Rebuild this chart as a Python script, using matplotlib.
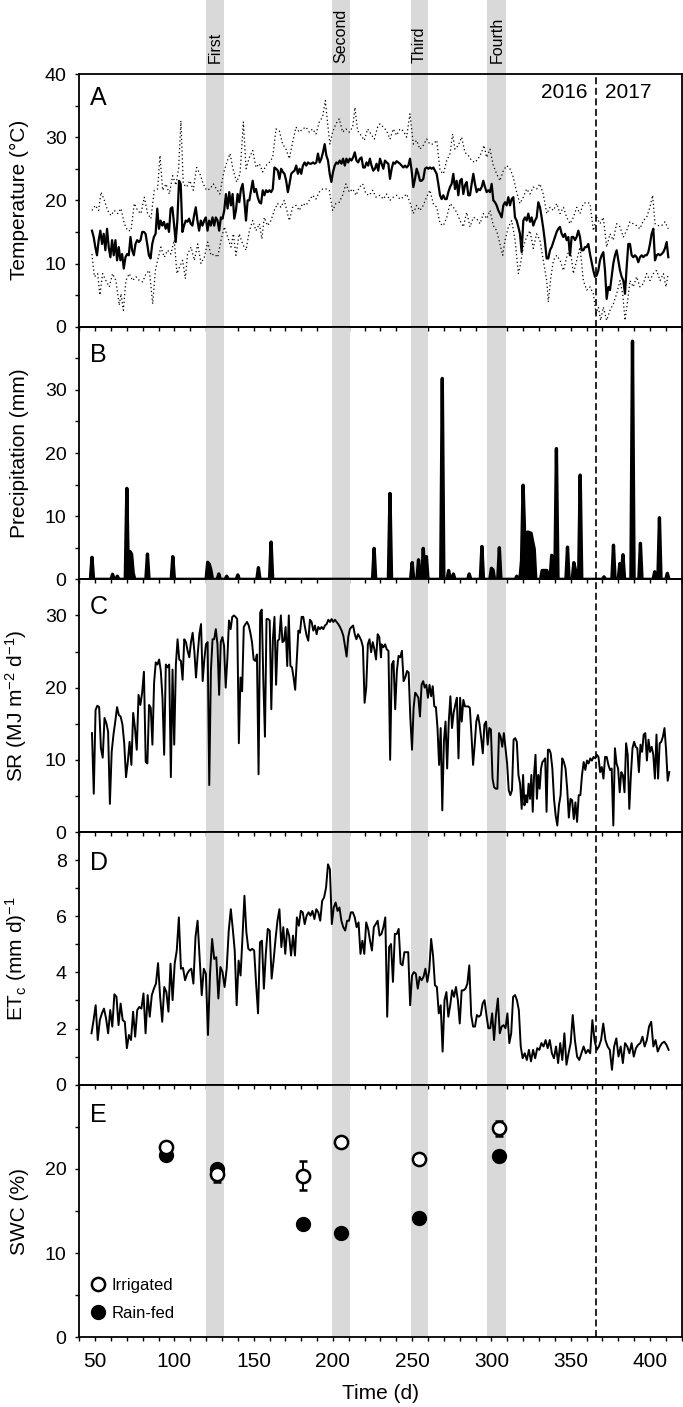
import numpy as np
import matplotlib
matplotlib.use('Agg')
import matplotlib.pyplot as plt
from matplotlib.ticker import MultipleLocator, FixedLocator
from matplotlib.lines import Line2D

plt.rcParams['font.family'] = ['Liberation Sans', 'DejaVu Sans']
plt.rcParams['mathtext.fontset'] = 'custom'
plt.rcParams['mathtext.rm'] = 'Liberation Sans'
plt.rcParams['mathtext.it'] = 'Liberation Sans:italic'
plt.rcParams['mathtext.default'] = 'regular'
plt.rcParams['lines.scale_dashes'] = False

# ---------------- data ----------------
# Mean daily temperature (°C), near-daily readings
tmean = [15.2, 14.2, 12.6, 11.3, 13.7, 15.2, 13.1, 14.7, 12.1, 15.5, 12.6, 11.0, 13.7, 11.3, 13.7, 10.5, 12.6, 10.5,
         11.5, 9.2, 11.0, 11.5, 11.3, 14.2, 12.1, 11.3, 13.1, 13.7, 13.4, 13.7, 15.0, 15.0, 14.7, 13.1, 11.3, 10.8,
         13.1, 14.2, 14.7, 18.7, 15.5, 16.8, 16.0, 16.6, 15.5, 16.3, 15.0, 18.7, 18.9, 16.3, 13.4, 16.8, 23.1, 22.6,
         15.0, 16.0, 16.8, 16.6, 17.1, 16.3, 16.0, 17.6, 18.9, 16.8, 15.2, 16.8, 16.0, 16.8, 17.3, 15.2, 16.8, 16.0,
         17.3, 16.0, 17.3, 16.8, 15.2, 17.3, 17.1, 18.4, 21.0, 18.7, 21.3, 19.2, 21.0, 17.1, 18.4, 21.0, 19.7, 21.8,
         22.6, 20.0, 16.8, 20.0, 20.0, 21.6, 23.1, 21.3, 21.8, 20.5, 19.7, 19.5, 21.6, 20.8, 21.6, 21.3, 21.6, 21.3,
         21.8, 25.2, 25.0, 24.7, 23.4, 25.0, 24.5, 24.2, 23.1, 21.3, 22.6, 24.2, 24.5, 24.7, 25.5, 24.2, 25.0, 24.2,
         25.5, 26.0, 25.5, 26.0, 25.8, 25.8, 26.0, 25.8, 26.0, 27.4, 26.0, 26.6, 27.6, 28.9, 27.1, 26.3, 24.2, 22.9,
         24.5, 25.5, 26.0, 25.8, 26.3, 25.8, 26.6, 25.5, 26.6, 26.0, 26.6, 26.3, 26.8, 27.6, 26.3, 26.0, 26.6, 26.8,
         25.2, 25.2, 26.0, 25.5, 26.6, 25.5, 24.7, 25.0, 25.8, 24.7,
         26.6, 25.8, 25.0, 26.3, 26.0, 25.8, 23.4, 25.0, 26.0, 25.8, 26.2, 26.0, 25.8, 25.5, 25.2, 25.5, 25.2, 25.5,
         26.6, 24.7, 22.1, 23.4, 25.0, 24.2, 23.1, 23.1, 23.4, 25.0, 25.2, 25.0, 25.2, 25.0, 25.2, 24.7, 24.2, 22.6,
         20.8, 20.2, 20.8, 20.2, 20.2, 21.3, 22.1, 22.6, 24.2, 21.8, 23.1, 20.8, 23.1, 23.4, 21.0, 22.4, 22.9, 20.8,
         20.8, 22.6, 24.2, 22.6, 21.3, 21.8, 21.6, 22.1, 23.1, 22.1, 21.3, 21.6, 21.3, 22.6, 20.0, 19.7, 19.2, 18.4,
         17.9, 17.3, 19.2, 19.7, 19.2, 20.5, 19.2, 20.2, 20.5, 17.3, 16.8, 15.8, 14.7, 11.8, 16.8, 17.3, 16.8, 17.9,
         16.6, 17.3, 16.0, 16.8, 17.3, 19.7, 18.9, 17.3, 15.5, 13.4, 10.8, 10.8, 12.1, 12.6, 13.4, 14.2, 15.0, 15.5,
         15.8, 14.7, 14.2, 14.7, 13.7, 14.2, 11.3, 14.2, 14.2, 13.7, 14.2, 15.2, 14.2, 12.1, 12.1, 12.6, 12.6, 13.1,
         11.5, 10.2, 8.9, 7.9, 8.1, 8.9, 10.5, 11.3, 11.8, 8.9, 4.4, 6.3, 5.8, 7.9, 10.0, 11.3, 12.1, 10.5,
         8.9, 7.9, 7.3, 5.2, 9.4, 13.1, 13.1, 11.3, 11.0, 11.3, 11.0, 10.2, 11.0, 11.3, 11.0, 11.3, 11.3, 11.8,
         13.1, 14.7, 15.5, 10.5, 11.3, 11.5, 11.3, 11.5, 11.8, 12.4, 13.4, 11.0]
# day of year at selected reading indices (readings between them are evenly spaced)
tmean_anchor_idx = [0, 171, 172, 345]
tmean_anchor_day = [48.0, 228.6, 229.7, 411.6]

tmax_days = [48.0, 50.1, 52.2, 53.7, 55.8, 57.9, 60.0, 62.1, 64.2, 66.3, 68.4, 70.5, 72.6, 74.7, 76.8, 78.9, 81.0,
             83.1, 85.2, 87.3, 89.4, 90.9, 92.6, 94.7, 96.8, 98.9, 101.0, 102.7, 104.1, 105.6, 107.7, 109.8, 111.9,
             114.0, 116.1, 118.2, 120.3, 122.4, 124.5, 126.6, 128.7, 130.9, 133.0, 135.1, 137.2, 139.3, 141.4,
             143.5, 145.2, 147.3, 149.4, 151.5, 153.6, 155.7, 157.8, 159.9, 162.0, 164.1, 166.2, 168.3, 170.4,
             172.5, 174.6, 176.7, 178.8, 180.9, 183.0, 185.1, 187.2, 189.3, 191.4, 193.5, 195.2, 196.7, 198.1,
             199.8, 201.9, 204.0, 206.1, 208.2, 210.3, 212.5, 213.9, 215.6, 217.7, 219.8, 221.9, 224.0, 226.1, 228.2,
             229.7, 231.8, 233.9, 236.0, 238.1, 240.2, 242.3, 244.4, 246.5, 248.6, 250.7, 252.8, 254.9, 257.0,
             259.1, 261.2, 263.3, 265.5, 267.6, 269.7, 271.8, 273.9, 275.5, 277.0, 279.1, 281.2, 283.3, 285.4,
             287.5, 289.6, 291.7, 293.8, 295.3, 297.0, 299.1, 301.2, 303.3, 305.4, 307.5, 309.6, 311.7, 313.8,
             315.9, 318.0, 320.1, 322.2, 324.3, 326.4, 328.5, 330.6, 332.7, 334.9, 337.0, 339.1, 341.2, 343.3,
             345.4, 347.5, 349.6, 351.7, 353.8, 355.9, 358.0, 360.1, 362.2, 364.3, 366.4, 368.5, 370.6, 372.7,
             374.8, 376.9, 379.0, 381.1, 383.2, 385.3, 387.4, 389.5, 391.6, 393.7, 395.8, 397.9, 400.0, 401.7,
             403.2, 405.3, 407.4, 409.5, 411.6]
tmax = [18.4, 19.2, 18.4, 21.3, 20.0, 18.4, 17.6, 18.4, 17.9, 18.7, 16.3, 15.2, 15.2, 19.5, 18.4, 17.9, 20.5, 17.9,
        17.1, 21.6, 21.8, 27.1, 21.6, 22.6, 21.0, 23.9, 22.4, 25.2, 32.6, 22.6, 22.1, 23.1, 21.6, 25.2, 24.2, 22.6,
        21.6, 21.8, 22.6, 21.8, 21.0, 24.2, 26.0, 27.4, 24.7, 22.9, 24.2, 32.4, 25.0, 26.8, 27.9, 25.2, 25.8, 24.5,
        25.5, 26.0, 26.8, 31.3, 31.0, 28.9, 28.1, 26.6, 29.2, 31.6, 30.8, 31.3, 31.6, 30.8, 31.3, 30.5, 32.4, 33.2,
        35.8, 32.1, 28.9, 30.8, 32.1, 32.9, 30.8, 31.3, 30.8, 31.6, 34.7, 31.0, 30.3, 29.5, 31.3, 30.5, 29.7, 31.6,
        32.1, 31.6, 31.0, 29.7, 31.3, 30.3, 31.3, 31.0, 30.0, 33.7, 28.9, 29.5, 28.1, 28.7, 29.7, 28.9, 28.9, 29.5,
        24.7, 24.2, 26.3, 27.4, 30.5, 28.1, 28.7, 30.0, 27.6, 27.1, 26.3, 26.0, 26.6, 27.6, 28.7, 26.8, 28.1, 25.5,
        24.2, 23.1, 24.7, 25.5, 25.0, 23.7, 21.3, 19.5, 20.5, 21.8, 21.0, 22.1, 21.8, 22.6, 21.0, 17.9, 18.9, 18.4,
        19.5, 17.9, 18.9, 17.3, 16.3, 17.3, 18.9, 17.9, 19.5, 19.7, 19.5, 15.2, 17.3, 16.3, 17.3, 12.6, 14.7, 13.7,
        16.3, 15.8, 14.2, 15.2, 16.6, 16.3, 16.0, 15.5, 16.8, 17.3, 18.9, 20.8, 16.3, 16.0, 16.0, 16.6, 15.5]

tmin_days = [48.0, 49.5, 51.6, 53.0, 54.7, 56.8, 58.9, 61.0, 63.1, 65.2, 66.3, 67.8, 69.4, 71.5, 73.6, 75.8, 77.9,
             80.0, 82.1, 84.2, 86.3, 88.0, 89.4, 91.5, 93.6, 95.7, 97.8, 99.9, 101.6, 103.1, 105.2, 106.9, 108.3,
             110.5, 112.6, 114.7, 116.8, 118.9, 121.0, 123.1, 125.2, 127.3, 129.4, 131.5, 133.6, 135.7, 137.2,
             138.8, 140.9, 143.0, 145.2, 147.3, 149.4, 151.5, 153.6, 155.2, 156.7, 158.8, 160.9, 163.0, 165.1,
             167.2, 169.3, 171.4, 172.5, 174.6, 176.7, 178.8, 180.9, 183.0, 185.1, 187.2, 189.3, 191.4, 193.5,
             195.6, 197.7, 199.8, 201.9, 204.0, 206.1, 208.2, 210.3, 212.5, 214.6, 216.7, 218.8, 220.9, 223.0,
             225.1, 227.2,
             229.7, 231.8, 233.9, 236.0, 238.1, 240.2, 242.3, 244.4, 246.5, 248.6, 250.7, 252.8, 254.9, 257.0,
             259.1, 261.2, 263.3, 265.5, 267.6, 269.7, 271.8, 273.9, 276.0, 278.1, 280.2, 282.3, 284.4, 286.5,
             288.6, 290.7, 292.8, 294.9, 297.0, 299.1, 301.2, 303.3, 305.4, 307.1, 308.6, 310.7, 312.8, 314.9,
             317.0, 318.4, 320.1, 322.2, 324.3, 326.4, 328.5, 330.6, 332.7, 334.9, 335.9, 337.4, 339.1, 341.2,
             343.3, 345.4, 347.5, 349.6, 351.7, 353.8, 355.9, 358.0, 360.1, 362.2, 364.3, 366.0, 367.5, 368.9,
             370.6, 372.7, 374.8, 376.9, 379.0, 381.1, 382.8, 384.3, 385.7, 387.4, 389.5, 391.6, 393.7, 395.8,
             397.9, 400.0, 402.1, 404.2, 406.4, 408.5, 410.1, 411.6]
tmin = [11.5, 7.9, 8.4, 5.0, 8.4, 7.3, 6.3, 8.4, 7.3, 3.4, 5.2, 2.6, 7.3, 8.4, 7.3, 7.9, 7.3, 7.1, 8.4, 8.9,
        3.6, 8.9, 10.5, 12.6, 11.0, 12.1, 11.5, 13.7, 8.4, 9.4, 10.5, 7.6, 11.5, 12.6, 10.5, 13.1, 10.0, 11.0,
        13.4, 11.3, 11.5, 11.0, 13.7, 15.8, 14.2, 12.6, 14.7, 11.3, 14.7, 13.1, 12.1, 15.2, 16.8, 15.2, 16.3,
        13.9, 17.3, 16.0, 16.8, 18.4, 19.5, 18.9, 20.0, 17.9, 16.8, 18.9, 19.2, 18.4, 19.5, 19.2, 20.0, 20.8,
        20.2, 21.3, 21.8, 21.8, 21.6, 18.4, 19.5, 19.7, 20.8, 22.6, 21.3, 21.8, 20.8, 22.1, 22.6, 21.0, 20.8,
        21.6, 20.5,
        20.8, 20.2, 21.0, 20.0, 20.5, 20.8, 20.2, 20.5, 21.0, 19.7, 17.9, 19.2, 18.4, 19.2, 20.5, 21.6, 19.5,
        18.9, 16.3, 16.0, 17.3, 19.5, 18.9, 18.1, 16.8, 15.8, 18.1, 15.8, 17.3, 17.1, 16.3, 17.9, 17.1, 18.4,
        16.0, 15.2, 13.1, 11.3, 13.7, 15.8, 16.8, 13.7, 8.4, 10.0, 12.6, 14.2, 15.2, 12.4, 14.7, 13.7, 10.5,
        7.3, 3.9, 7.6, 10.5, 11.3, 10.5, 8.9, 11.0, 12.6, 8.4, 10.5, 12.6, 7.3, 5.8, 6.3, 5.2, 2.1, 3.1, 1.0,
        3.1, 1.0, 2.6, 3.6, 5.2, 7.3, 5.2, 1.0, 3.6, 7.3, 6.3, 7.9, 6.3, 6.8, 8.4, 7.3, 8.4, 8.9, 7.3, 8.4,
        6.3, 8.4]

# Precipitation events (day, mm); all other days 0
rain_days = [48, 61, 64, 70, 72, 73, 74, 83, 99, 121, 122, 123, 128, 133, 140, 153, 161, 226, 236, 250, 254,
             257, 259, 269, 273, 276, 286, 294, 300, 301, 305, 316, 319, 320, 321, 322, 323, 324, 325, 326, 327,
             332, 333, 334, 335, 338, 341, 348, 352, 353, 356, 371, 377, 381, 382, 383, 389, 394, 403, 406, 411]
rain_mm = [3.5, 0.8, 0.5, 14.4, 4.4, 4.0, 1.0, 4.0, 3.6, 2.7, 2.4, 1.5, 0.85, 0.5, 0.7, 1.85, 5.9, 4.9, 13.6,
           2.65, 3.1, 4.9, 3.6, 31.8, 1.4, 0.85, 0.85, 5.2, 1.75, 1.5, 5.0, 0.5, 3.0, 14.9, 6.8, 7.0, 7.5,
           7.4, 7.3, 6.0, 4.8, 1.4, 1.4, 1.4, 1.4, 3.8, 20.7, 5.1, 2.65, 1.5, 16.5, 0.4, 5.4, 2.5, 1.0, 3.9,
           37.7, 5.7, 1.2, 9.75, 0.95]
rain_first_day, rain_last_day = 47, 412

# Solar radiation (MJ m-2 d-1), near-daily readings
sr = [13.7, 5.3, 16.9, 17.5, 17.3, 11.6, 10.3, 15.8, 15.1, 13.9, 3.9, 11.1, 13.5, 15.3, 17.3, 16.2, 16.0, 14.9,
      12.3, 7.6, 9.7, 12.5, 9.3, 16.5, 14.4, 11.4, 19.0, 17.6, 19.3, 22.2, 9.7, 9.5, 17.6, 17.2, 12.1, 20.7,
      23.5, 23.2, 23.9, 22.3, 18.6, 10.7, 23.2, 22.8, 23.2, 7.6, 22.5, 12.1, 23.2, 26.7, 23.9, 23.7, 21.1, 26.7,
      26.3, 25.1, 24.2, 26.3, 27.6, 25.1, 21.4, 24.6, 27.4, 28.8, 20.9, 23.9, 26.0, 26.3, 6.5, 22.3, 26.7, 26.7,
      28.1, 26.0, 19.0, 26.3, 27.0, 25.8, 20.0, 23.9, 29.3, 28.1, 29.8, 30.0, 29.8, 29.5, 12.3, 21.4, 19.5, 28.4,
      28.8, 29.1, 28.6, 27.6, 26.3, 23.9, 23.7, 24.6, 8.0, 30.4, 30.8, 20.9, 13.2, 29.5, 29.5, 29.3, 17.0, 26.7,
      29.8, 20.4, 26.5, 26.7, 30.0, 26.3, 26.5, 28.4, 23.0, 30.0, 23.0, 22.8, 21.4, 19.7, 23.7, 27.9, 27.6, 29.8,
      29.8, 28.4, 27.2, 26.5, 29.4, 29.1, 27.9, 28.6, 27.4, 28.4, 28.1, 28.4, 28.1, 28.6, 28.8, 29.4, 29.1, 29.5,
      29.1, 29.4, 29.1, 28.8, 28.4, 27.9, 27.2, 25.8, 24.3, 27.0, 28.1, 28.4, 28.6, 27.4, 26.7, 27.4, 27.0, 26.5,
      25.6, 17.9, 20.0, 26.0, 26.7, 24.9, 26.3, 25.3, 23.9, 27.4, 27.0, 24.2,
      26.0, 25.6, 26.0, 25.3, 25.1, 10.0, 23.2, 23.7, 17.0, 22.3, 24.4, 24.2, 25.1, 20.9, 21.4, 22.3, 22.1, 15.8,
      11.4, 17.2, 19.3, 19.0, 18.6, 16.0, 20.4, 20.9, 20.0, 20.4, 18.6, 20.4, 18.8, 20.2, 17.4, 17.3, 14.4, 9.3,
      14.4, 3.0, 12.5, 15.3, 8.8, 15.3, 18.8, 14.4, 16.5, 17.6, 18.6, 10.2, 18.6, 15.3, 18.3, 17.4, 17.4, 17.4,
      17.2, 13.5, 9.3, 12.1, 15.3, 16.2, 14.9, 13.0, 10.9, 14.9, 15.3, 12.1, 14.4, 14.2, 7.4, 6.2, 6.0, 6.0,
      13.7, 13.2, 11.8, 13.7, 11.6, 9.5, 5.8, 5.1, 5.8, 12.8, 13.0, 12.5, 7.9, 6.7, 3.2, 7.9, 3.7, 5.1, 4.1,
      6.7, 4.6, 7.9, 2.8, 8.1, 10.7, 4.6, 7.9, 6.0, 8.8, 9.7, 9.9, 10.2, 2.8, 11.4, 11.4, 10.9, 8.8, 4.6, 2.3,
      0.9, 3.7, 5.1, 10.2, 9.7, 8.8, 6.0, 2.0, 4.6, 4.4, 1.8, 4.1, 1.4, 5.1, 5.1, 7.9, 9.7, 8.6, 9.9, 9.5,
      10.2, 9.9, 10.4, 10.2, 10.7, 10.4, 8.3, 9.0, 7.4, 10.4, 10.4, 9.3, 8.6, 8.8, 0.9, 11.6, 9.5, 8.8, 5.5,
      8.3, 7.9, 5.5, 12.3, 10.7, 3.2, 7.9, 11.6, 12.5, 11.8, 11.6, 8.3, 12.1, 11.1, 13.5, 13.7, 9.9, 12.8,
      11.1, 11.8, 10.7, 7.4, 13.5, 7.4, 12.3, 12.5, 13.2, 14.4, 11.4, 7.1, 8.3]
sr_anchor_idx = [0, 30, 63, 98, 124, 151, 173, 174, 192, 211, 260, 281, 319, 354]
sr_anchor_day = [48.0, 81.9, 116.8, 153.1, 179.2, 207.6, 230.3, 230.8, 249.9, 269.0, 319.1, 337.4, 376.9, 412.2]

# Crop evapotranspiration (mm d-1), near-daily readings
etc = [1.83, 2.3, 2.83, 1.59, 2.3, 2.54, 2.71, 2.36, 1.83, 2.66, 2.07, 3.22, 3.13, 2.12, 2.89, 2.3, 2.24, 1.3,
       1.77, 1.59, 2.6, 1.71, 2.66, 2.77, 2.71, 3.25, 1.83, 3.19, 2.42, 3.19, 3.42, 3.6, 4.33, 3.13, 2.24, 3.48,
       3.3, 2.6, 4.31, 3.01, 4.31, 4.78, 5.96, 4.13, 4.16, 3.72, 3.95, 4.07, 4.13, 3.6, 5.25, 5.84, 4.54, 3.19,
       4.13, 3.95, 1.77, 3.95, 5.19, 4.48, 4.54, 3.07, 4.19, 4.01, 3.48, 4.13, 5.49, 6.25, 5.55, 4.78, 2.83,
       4.42, 3.89, 5.25, 6.73, 5.43, 4.84, 4.78, 4.84, 4.78, 3.6, 2.54, 5.07, 5.13, 3.42, 4.66, 5.55, 5.49,
       3.78, 4.42, 5.19, 5.84, 6.25, 4.9, 5.61, 4.66, 5.55, 5.31, 4.6, 5.31, 4.6, 5.96, 5.66, 6.19, 6.14, 5.72,
       6.02, 6.14, 6.02, 6.19, 5.9, 6.25, 6.14, 5.84, 6.55, 6.67, 7.02, 7.85, 7.67, 5.72, 6.31, 6.49, 6.19, 6.31,
       5.84, 5.61, 5.49, 5.84, 5.84, 6.14, 6.14, 5.96, 5.61, 5.78, 4.66, 5.13, 4.66, 5.78, 5.55, 5.13, 4.78,
       5.61, 5.72, 5.84, 5.31, 5.37, 5.61, 5.96, 2.42, 4.9, 5.01, 3.66, 5.37, 5.37, 5.55, 4.31, 4.25, 4.72,
       4.72, 4.72, 2.83, 3.89, 4.01, 3.95, 3.42, 3.84, 3.72, 3.84, 4.13, 3.66, 4.07, 5.19, 4.6, 3.54, 3.48,
       2.54, 2.83, 1.18, 3.01, 3.3, 2.42, 2.83, 3.36, 3.13, 3.48, 3.01, 2.18, 3.36, 3.36, 3.42, 3.6, 4.25,
       2.48, 2.07, 2.07, 2.48, 2.42, 2.48, 2.89, 3.01, 2.48, 2.01, 2.01, 2.54, 1.59, 2.48, 3.07, 1.83, 2.07,
       2.12, 2.01, 2.54, 1.48, 1.83, 3.13, 3.19, 3.01, 2.66, 1.36, 0.94, 1.12, 0.88, 1.24, 0.83, 1.24, 0.94,
       1.3, 1.24, 1.48, 1.36, 1.59, 1.3, 1.59, 1.12, 0.94, 1.36, 0.77, 1.48, 0.88, 1.83, 0.71, 1.12, 1.48,
       2.48, 1.59, 1.0, 0.88, 1.12, 1.36, 1.12, 1.24, 1.12, 2.3, 1.59, 1.24, 1.36, 1.59, 2.18, 1.59, 1.36,
       1.24, 0.53, 1.36, 1.65, 1.0, 1.36, 0.77, 1.48, 1.36, 1.12, 1.48, 1.0, 1.3, 1.42, 1.48, 1.71, 1.36,
       1.59, 2.07, 2.24, 1.36, 1.59, 1.18, 1.36, 1.48, 1.53, 1.42, 1.24]
etc_anchor_idx = [0, 67, 117, 177, 219, 243, 287]
etc_anchor_day = [47.7, 135.6, 196.9, 269.2, 319.7, 351.3, 411.8]

# Soil water content (%)
swc_days = [95, 126.6, 181, 205, 254.3, 304.8]
swc_irrigated = [22.6, 19.4, 19.2, 23.2, 21.2, 24.8]
swc_irrigated_err = [0.4, 0.9, 1.7, 0.3, 0.6, 0.9]
swc_rainfed = [21.7, 20.0, 13.5, 12.35, 14.2, 21.5]
swc_rainfed_err = [0.3, 0.3, 0.3, 0.3, 0.3, 0.3]

# Sampling campaigns (shaded periods)
campaign_names = ['First', 'Second', 'Third', 'Fourth']
campaign_start = [120, 199.5, 249, 297.3]
campaign_end = [131, 210.8, 260.2, 309.5]
year_break = 366


def reading_days(n, anchor_idx, anchor_day):
    return np.interp(np.arange(n), anchor_idx, anchor_day)


# ---------------- figure ----------------
fig = plt.figure(figsize=(6.83, 14.07), dpi=100)
left, right, top, bottom = 0.1161, 0.998, 0.9474, 0.0495
h = (top - bottom) / 5
axes = [fig.add_axes([left, top - (i + 1) * h, right - left, h]) for i in range(5)]
axA, axB, axC, axD, axE = axes

band_color = '#d9d9d9'
dot_style = (0, (0.9, 1.9))
for i, ax in enumerate(axes):
    ax.set_facecolor('none')
    ax.set_xlim(40, 420)
    for s, e in zip(campaign_start, campaign_end):
        if i == 0:
            ax.axvspan(s, e, ymin=0, ymax=1.2925, color=band_color, lw=0, zorder=0, clip_on=False)
        else:
            ax.axvspan(s, e, color=band_color, lw=0, zorder=0)
    ax.axvline(year_break, color='k', lw=1.2, dashes=(5, 2.6), zorder=1)
    for sp in ax.spines.values():
        sp.set_linewidth(1.3)
    ax.xaxis.set_major_locator(MultipleLocator(50))
    ax.xaxis.set_minor_locator(MultipleLocator(10))
    ax.tick_params(which='both', direction='out', length=3.2, width=1.0, top=False, right=False,
                   labelsize=14, pad=6)
    ax.tick_params(axis='x', labelsize=15, pad=7)
    if i < 4:
        ax.tick_params(labelbottom=False)

# A: temperature
t_days = reading_days(len(tmean), tmean_anchor_idx, tmean_anchor_day)
axA.plot(tmax_days, tmax, color='k', lw=0.9, linestyle=dot_style, zorder=2)
axA.plot(tmin_days, tmin, color='k', lw=0.9, linestyle=dot_style, zorder=2)
axA.plot(t_days, tmean, color='k', lw=1.6, zorder=3)
axA.set_ylim(0, 40)
axA.yaxis.set_major_locator(MultipleLocator(10))
axA.yaxis.set_minor_locator(MultipleLocator(5))
axA.set_ylabel('Temperature (°C)', fontsize=15)
axA.text(360.4, 37.0, '2016', ha='right', va='center', fontsize=15)
axA.text(371.7, 37.0, '2017', ha='left', va='center', fontsize=15)
for name, s, e in zip(campaign_names, campaign_start, campaign_end):
    axA.text((s + e) / 2, 1.042, name, rotation=90, ha='center', va='bottom', fontsize=11.5,
             transform=axA.get_xaxis_transform())

# B: precipitation
p_days = np.arange(rain_first_day, rain_last_day + 1)
precip = np.zeros(p_days.size)
for d, v in zip(rain_days, rain_mm):
    precip[d - rain_first_day] = v
axB.fill_between(p_days, precip, color='k', lw=0, zorder=2)
axB.plot(p_days, precip, color='k', lw=2.4, zorder=3)
axB.set_ylim(0, 40)
axB.yaxis.set_major_locator(FixedLocator([0, 10, 20, 30]))
axB.yaxis.set_minor_locator(FixedLocator([5, 15, 25, 35]))
axB.set_ylabel('Precipitation (mm)', fontsize=15)

# C: solar radiation
s_days = reading_days(len(sr), sr_anchor_idx, sr_anchor_day)
axC.plot(s_days, sr, color='k', lw=1.4, zorder=3)
axC.set_ylim(0, 35)
axC.yaxis.set_major_locator(FixedLocator([0, 10, 20, 30]))
axC.yaxis.set_minor_locator(FixedLocator([5, 15, 25]))
axC.set_ylabel('SR (MJ m$^{-2}$ d$^{-1}$)', fontsize=15)

# D: ETc
e_days = reading_days(len(etc), etc_anchor_idx, etc_anchor_day)
axD.plot(e_days, etc, color='k', lw=1.4, zorder=3)
axD.set_ylim(0, 9)
axD.yaxis.set_major_locator(FixedLocator([0, 2, 4, 6, 8]))
axD.yaxis.set_minor_locator(FixedLocator([1, 3, 5, 7]))
axD.set_ylabel('ET$_\\mathrm{c}$ (mm d)$^{-1}$', fontsize=15)

# E: SWC
axE.errorbar(swc_days, swc_rainfed, yerr=swc_rainfed_err, fmt='o', color='k', mfc='k', mec='k',
             ms=9.5, mew=1.5, elinewidth=1.4, capsize=3, capthick=1.4, zorder=3)
axE.errorbar(swc_days, swc_irrigated, yerr=swc_irrigated_err, fmt='o', color='k', mfc='white', mec='k',
             ms=9.5, mew=1.8, elinewidth=1.4, capsize=3, capthick=1.4, zorder=4)
axE.set_ylim(0, 30)
axE.yaxis.set_major_locator(FixedLocator([0, 10, 20]))
axE.yaxis.set_minor_locator(FixedLocator([5, 15, 25]))
axE.set_ylabel('SWC (%)', fontsize=15)
axE.set_xlabel('Time (d)', fontsize=15, labelpad=10)
legend_handles = [
    Line2D([], [], ls='none', marker='o', ms=9.5, mfc='white', mec='k', mew=1.8),
    Line2D([], [], ls='none', marker='o', ms=9.5, mfc='k', mec='k', mew=1.5),
]
axE.legend(legend_handles, ['Irrigated', 'Rain-fed'], loc='lower left', bbox_to_anchor=(0.0, 0.02),
           frameon=False, fontsize=12, handlelength=0.9, handletextpad=0.35, labelspacing=0.75,
           borderaxespad=0.3)

for ax in axes:
    ax.yaxis.set_label_coords(-0.083, 0.5)

letters = ['A', 'B', 'C', 'D', 'E']
ypos = [0.905, 0.887, 0.89, 0.877, 0.88]
for ax, L, y in zip(axes, letters, ypos):
    ax.text(0.017, y, L, transform=ax.transAxes, fontsize=18, ha='left', va='center')

fig.savefig('out.png', dpi=100)
